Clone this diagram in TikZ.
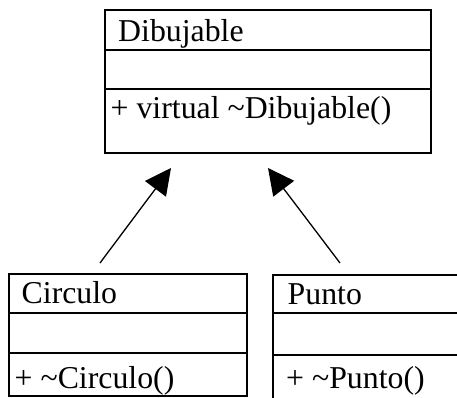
\documentclass[tikz,border=0pt]{standalone}
\usepackage{fontspec}
\setmainfont{Liberation Serif}
\usetikzlibrary{arrows.meta}
\begin{document}
\begin{tikzpicture}[x=1pt,y=-1pt,
  classbox/.style={draw, line width=2pt, rectangle, inner sep=0pt, outer sep=0pt, anchor=north west},
  divider/.style={line width=2pt},
  label/.style={anchor=base west, inner sep=0pt, font=\fontsize{31.8}{38}\selectfont},
  inherit/.style={line width=1.3pt, -{Triangle[length=26pt,width=26pt]}}]
\useasboundingbox (0,0) rectangle (457,397);

% Dibujable
\node[classbox, minimum width=326pt, minimum height=142.7pt] (dib) at (104.7,10) {};
\draw[divider] (dib.west |- 0,50) -- (dib.east |- 0,50);
\draw[divider] (dib.west |- 0,89) -- (dib.east |- 0,89);
\node[label] (dibname) at (118,41.5) {Dibujable};
\node[label] (dibop) at (110.5,118) {+ virtual \textasciitilde Dibujable()};

% Circulo
\node[classbox, minimum width=237.7pt, minimum height=122pt] (cir) at (9,274) {};
\draw[divider] (cir.west |- 0,312.7) -- (cir.east |- 0,312.7);
\draw[divider] (cir.west |- 0,353) -- (cir.east |- 0,353);
\node[label] (cirname) at (21.5,303.3) {Circulo};
\node[label] (cirop) at (14.5,388) {+ \textasciitilde Circulo()};

% Punto
\node[classbox, minimum width=200pt, minimum height=140pt] (pun) at (272.7,275) {};
\draw[divider] (pun.west |- 0,313.3) -- (pun.east |- 0,313.3);
\draw[divider] (pun.west |- 0,355) -- (pun.east |- 0,355);
\node[label] (punname) at (287.5,304.3) {Punto};
\node[label] (punop) at (286,388) {+ \textasciitilde Punto()};

% inheritance arrows
\coordinate (cirfrom) at (100,263);
\coordinate (cirto) at (171,168);
\coordinate (punfrom) at (340,263);
\coordinate (punto) at (268,168);
\draw[inherit] (cirfrom) -- (cirto);
\draw[inherit] (punfrom) -- (punto);
\end{tikzpicture}
\end{document}
